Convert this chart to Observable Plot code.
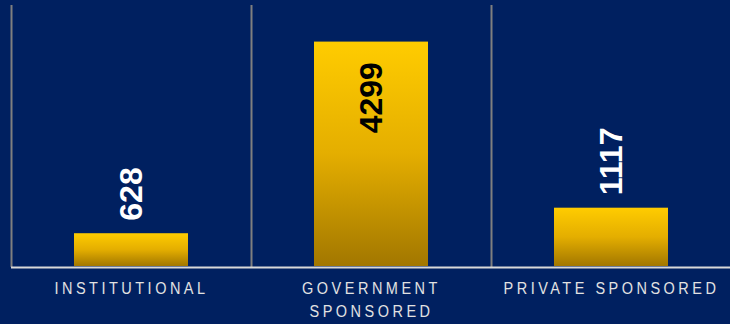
<!DOCTYPE html>
<html><head><meta charset="utf-8">
<script src="https://cdn.jsdelivr.net/npm/d3@7"></script>
<script src="https://cdn.jsdelivr.net/npm/@observablehq/plot@0.6"></script>
<style>
html,body{margin:0;padding:0;background:#002060;overflow:hidden;}
#chart svg{display:block;}
#chart g[aria-label="x-axis tick label"] text{letter-spacing:3.5px;}
</style></head><body><div id="chart"></div>
<script>
const categories = ["INSTITUTIONAL", "GOVERNMENT SPONSORED", "PRIVATE SPONSORED"];
const values = [628, 4299, 1117];
const tickLabels = ["INSTITUTIONAL", "GOVERNMENT\nSPONSORED", "PRIVATE SPONSORED"];

const data = categories.map((c, i) => ({category: c, value: values[i]}));
const insideThreshold = 3000;

const chart = Plot.plot({
  width: 730, height: 324,
  marginTop: 5, marginBottom: 58, marginLeft: 11, marginRight: -1,
  style: {background: "#002060", fontFamily: "'Liberation Sans', Arial, sans-serif", overflow: "visible"},
  x: {domain: categories, padding: 0, label: null},
  y: {domain: [0, 5000], axis: null},
  marks: [
    Plot.ruleX(categories, {x: d => d, dx: -120, stroke: "#7f7f7f", strokeWidth: 2, insetBottom: -1}),
    Plot.barY(data, {x: "category", y: "value", insetLeft: 63, insetRight: 63, fill: "#FFCC00"}),
    Plot.ruleY([0], {stroke: "#d9d9d9", strokeWidth: 2, dy: 1}),
    Plot.text(data.filter(d => d.value <= insideThreshold), {
      x: "category", y: "value", text: d => String(d.value), rotate: -90,
      textAnchor: "start", dy: -13, fill: "white", fontSize: 32, fontWeight: "bold"
    }),
    Plot.text(data.filter(d => d.value > insideThreshold), {
      x: "category", y: "value", text: d => String(d.value), rotate: -90,
      textAnchor: "end", dy: 20, fill: "black", fontSize: 32, fontWeight: "bold"
    }),
    Plot.axisX({
      tickSize: 0, tickPadding: 12, fontSize: 14.5, fill: "#e2e2e2", label: null,
      lineHeight: 1.28, tickFormat: d => tickLabels[categories.indexOf(d)]
    })
  ]
});

// slightly tall, condensed look of the reference's category labels
chart.querySelectorAll('g[aria-label="x-axis tick label"] text').forEach(t => {
  const tr = t.getAttribute("transform") || "";
  t.setAttribute("transform", tr + " scale(1,1.2)");
});

// vertical gradient per bar
const ns = "http://www.w3.org/2000/svg";
const defs = document.createElementNS(ns, "defs");
const grad = document.createElementNS(ns, "linearGradient");
grad.setAttribute("id", "barGrad");
grad.setAttribute("x1", "0"); grad.setAttribute("y1", "0");
grad.setAttribute("x2", "0"); grad.setAttribute("y2", "1");
[["0%", "#FFCC00"], ["50%", "#E4AE00"], ["100%", "#A27700"]].forEach(([o, c]) => {
  const s = document.createElementNS(ns, "stop");
  s.setAttribute("offset", o); s.setAttribute("stop-color", c);
  grad.appendChild(s);
});
defs.appendChild(grad);
chart.insertBefore(defs, chart.firstChild);
chart.querySelectorAll('g[aria-label="bar"] rect').forEach(r => r.setAttribute("fill", "url(#barGrad)"));
const barG = chart.querySelector('g[aria-label="bar"]');
if (barG) barG.removeAttribute("fill");

document.getElementById("chart").appendChild(chart);
</script>
</body></html>
